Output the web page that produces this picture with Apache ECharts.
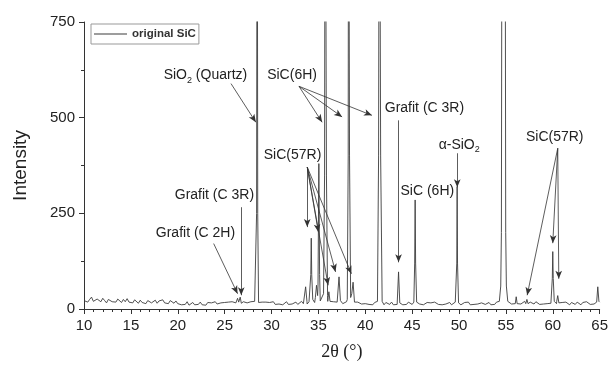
<!DOCTYPE html>
<html>
<head>
<meta charset="utf-8">
<script src="https://cdn.jsdelivr.net/npm/echarts@6/dist/echarts.min.js"></script>
<style>
  html, body { margin: 0; padding: 0; background: #fff; }
  #chart { width: 611px; height: 369px; }
</style>
</head>
<body>
<div id="chart"></div>
<script>
// background scan, one value every 0.2 deg from 10 to 65
const bgStart = 10;
const bgStep = 0.2;
const background = [
  22,27,18,25,31,20,17,26,23,19,28,22,16,25,29,19,24,18,26,21,17,25,19,27,18,
  22,16,24,19,15,23,17,21,14,22,25,16,20,23,15,21,17,24,16,20,14,22,17,15,21,
  14,18,11,16,12,19,10,15,17,11,16,12,18,11,15,10,17,12,16,11,19,13,10,16,12,
  17,12,18,13,19,14,16,20,16,14,19,22,16,15,19,14,20,16,15,21,18,14,18,13,17,
  15,19,12,17,13,18,11,16,19,12,17,13,15,18,12,17,20,14,18,13,19,16,21,17,22,
  24,21,19,23,18,20,17,22,19,16,18,15,17,14,16,19,15,13,17,14,16,18,15,13,16,
  14,18,12,16,11,17,13,19,12,16,11,17,13,12,18,11,16,12,17,13,11,16,12,18,13,
  12,17,11,16,13,18,11,15,17,12,16,11,18,13,12,17,11,16,13,12,17,11,15,18,12,
  16,11,15,17,12,18,11,16,12,17,13,11,16,18,12,15,17,11,16,12,18,13,16,20,24,
  22,17,16,13,18,12,16,19,13,17,20,14,12,18,15,13,19,14,12,17,13,18,14,19,15,
  19,17,14,18,13,17,12,18,14,11,17,13,12,18,14,11,17,13,19,14,12,17,13,18,21,
  18
];

// reflections [2theta, intensity]
const peaks = [
  [[26.25,16],[26.38,28],[26.5,18]],
  [[26.56,20],[26.66,31],[26.78,15]],
  [[28.32,17],[28.41,250],[28.47,1500],[28.53,250],[28.62,17]],
  [[33.5,16],[33.64,58],[33.78,20]],
  [[34.08,22],[34.19,90],[34.24,185],[34.29,90],[34.4,25]],
  [[34.68,30],[34.8,62],[34.92,35]],
  [[34.96,60],[35.05,380],[35.13,90]],
  [[35.55,40],[35.66,350],[35.72,1500],[35.8,1500],[35.86,350],[35.98,35]],
  [[36.04,30],[36.12,45],[36.24,20]],
  [[37.05,20],[37.2,84],[37.35,22]],
  [[38.08,25],[38.18,400],[38.22,1500],[38.28,1500],[38.32,400],[38.44,30]],
  [[38.56,40],[38.7,70],[38.85,18]],
  [[41.3,20],[41.42,400],[41.5,1500],[41.56,1500],[41.64,400],[41.8,20]],
  [[43.42,16],[43.55,97],[43.68,16]],
  [[45.18,18],[45.27,120],[45.32,285],[45.37,120],[45.48,18]],
  [[49.68,16],[49.76,120],[49.8,320],[49.84,120],[49.95,16]],
  [[54.3,20],[54.45,60],[54.52,200],[54.58,1200],[54.92,1200],[54.98,200],[55.05,60],[55.2,20]],
  [[56.0,14],[56.1,32],[56.2,14]],
  [[57.12,14],[57.24,25],[57.36,14]],
  [[59.86,18],[59.95,80],[60.0,150],[60.05,80],[60.16,20]],
  [[60.42,20],[60.53,35],[60.65,16]],
  [[64.68,18],[64.8,58],[64.92,20]]
];

// annotation texts: [formatter, 2theta, intensity]
const labels = [
  ['{t|SiO}{s|2}{t| (Quartz)}', 22.95, 610],
  ['{t|SiC(6H)}', 32.19, 610],
  ['{t|Grafit (C 3R)}', 46.31, 524],
  ['{t|α-SiO}{s|2}', 50.02, 428],
  ['{t|SiC (6H)}', 46.62, 307],
  ['{t|SiC(57R)}', 60.21, 448],
  ['{t|SiC(57R)}', 32.24, 401],
  ['{t|Grafit (C 3R)}', 23.91, 297],
  ['{t|Grafit (C 2H)}', 21.89, 198]
];

// arrows: [from 2theta, from I, to 2theta, to I]
const arrows = [
  [25.68, 589, 28.33, 488],
  [32.93, 582, 35.40, 488],
  [32.93, 582, 37.53, 502],
  [32.93, 582, 40.71, 506],
  [43.55, 493, 43.55, 122],
  [49.81, 407, 49.81, 318],
  [60.53, 420, 57.27, 36],
  [60.53, 420, 60.0, 172],
  [60.53, 420, 60.64, 79],
  [33.81, 371, 33.81, 214],
  [33.81, 371, 35.0, 201],
  [33.81, 371, 36.04, 62],
  [33.81, 371, 36.83, 97],
  [33.81, 371, 38.52, 92],
  [26.77, 266, 26.77, 36],
  [23.83, 171, 26.38, 40]
];

const points = [];
background.forEach((v, i) => {
  const x = +(bgStart + i * bgStep).toFixed(2);
  const inPeak = peaks.some(p => x >= p[0][0] && x <= p[p.length - 1][0]);
  if (!inPeak) points.push([x, v]);
});
peaks.forEach(p => points.push(...p));
points.sort((a, b) => a[0] - b[0]);

const axisColor = '#333';
const font = 'Liberation Sans, Arial, sans-serif';

const chart = echarts.init(document.getElementById('chart'));
chart.setOption({
  animation: false,
  grid: { left: 84, right: 9, top: 22, bottom: 60 },
  legend: {
    data: [{ name: 'original SiC', icon: 'rect' }],
    left: 91,
    top: 24,
    itemWidth: 33,
    itemHeight: 1,
    itemGap: 4,
    padding: [4, 3, 4, 3],
    borderColor: '#999',
    borderWidth: 1,
    textStyle: { fontSize: 11.5, fontWeight: 'bold', color: '#333', fontFamily: font }
  },
  xAxis: {
    type: 'value',
    min: 10,
    max: 65,
    interval: 5,
    name: '2θ (°)',
    nameLocation: 'middle',
    nameGap: 34,
    nameTextStyle: { fontSize: 18, color: '#222', fontFamily: 'Liberation Serif, Times New Roman, serif' },
    axisLine: { lineStyle: { color: axisColor, width: 1 } },
    axisTick: { length: 5, lineStyle: { color: axisColor } },
    minorTick: { show: true, splitNumber: 5, length: 3, lineStyle: { color: axisColor } },
    axisLabel: { fontSize: 15, color: '#222', margin: 9, fontFamily: font },
    splitLine: { show: false }
  },
  yAxis: {
    type: 'value',
    min: 0,
    max: 750,
    interval: 250,
    name: 'Intensity',
    nameLocation: 'middle',
    nameGap: 54,
    nameTextStyle: { fontSize: 19, color: '#222', fontFamily: font },
    axisLine: { show: true, lineStyle: { color: axisColor, width: 1 } },
    axisTick: { show: true, length: 5, lineStyle: { color: axisColor } },
    minorTick: { show: true, splitNumber: 2, length: 3, lineStyle: { color: axisColor } },
    axisLabel: { fontSize: 15, color: '#222', margin: 9, fontFamily: font },
    splitLine: { show: false }
  },
  series: [{
    name: 'original SiC',
    type: 'line',
    data: points,
    symbol: 'none',
    color: '#3c3c3c',
    lineStyle: { width: 0.9, color: '#3c3c3c' },
    clip: true,
    markLine: {
      silent: true,
      symbol: ['none', 'arrow'],
      symbolSize: 7,
      label: { show: false },
      lineStyle: { color: '#333', width: 0.8, type: 'solid' },
      data: arrows.map(a => [
        { coord: [a[0], a[1]], symbol: 'none' },
        { coord: [a[2], a[3]], symbol: 'arrow', symbolSize: [5, 8] }
      ])
    },
    markPoint: {
      silent: true,
      symbol: 'circle',
      symbolSize: 1,
      itemStyle: { color: 'rgba(0,0,0,0)' },
      data: labels.map(l => ({
        coord: [l[1], l[2]],
        label: {
          show: true,
          position: 'inside',
          formatter: l[0],
          rich: {
            t: { fontSize: 14, color: '#222', fontFamily: font },
            s: { fontSize: 9, color: '#222', fontFamily: font, padding: [9, 0, 0, 0] }
          }
        }
      }))
    }
  }]
});
</script>
</body>
</html>
